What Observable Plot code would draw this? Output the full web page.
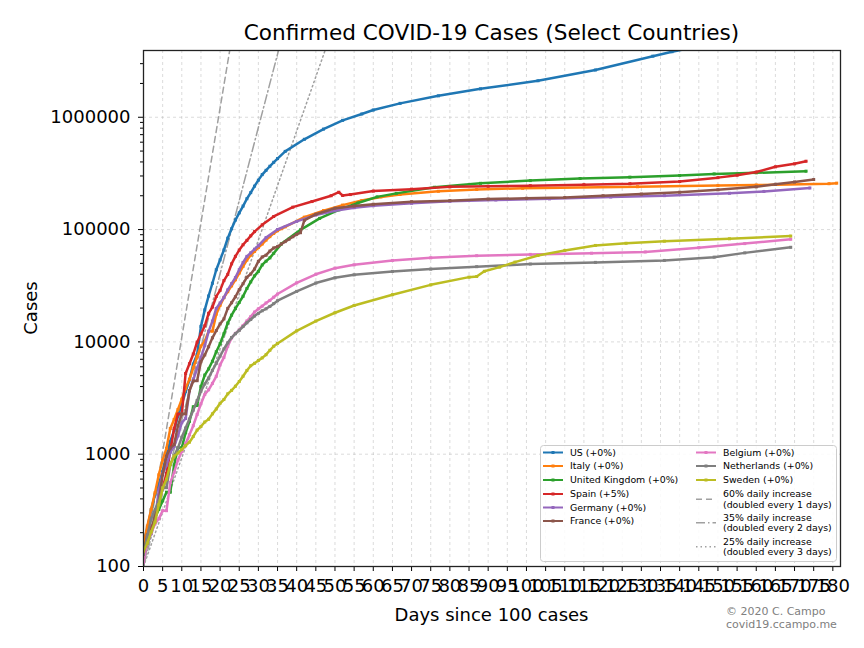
<!DOCTYPE html>
<html><head><meta charset="utf-8">
<script src="https://cdn.jsdelivr.net/npm/d3@7"></script>
<script src="https://cdn.jsdelivr.net/npm/@observablehq/plot@0.6"></script>
<style>
body{margin:0;background:#fff;font-family:"DejaVu Sans",sans-serif;}
#wrap{position:relative;width:864px;height:648px;overflow:hidden;}
#title{position:absolute;left:143px;width:697px;top:20px;text-align:center;font-size:21.6px;line-height:26px;color:#000;}
#chart{position:absolute;left:0;top:44px;}
#ylabel{position:absolute;left:30px;top:308px;transform:translate(-50%,-50%) rotate(-90deg);font-size:18px;white-space:nowrap;}
#xlabel{position:absolute;left:143px;width:697px;top:604px;text-align:center;font-size:18px;line-height:22px;}
#credit{position:absolute;left:726px;top:606px;font-size:11px;color:#808080;line-height:12.5px;}
#legend{position:absolute;left:540px;top:445px;}
</style></head>
<body>
<div id="wrap">
  <div id="title">Confirmed COVID-19 Cases (Select Countries)</div>
  <div id="chart"></div>
  <div id="ylabel">Cases</div>
  <div id="xlabel">Days since 100 cases</div>
  <div id="credit">© 2020 C. Campo<br>covid19.ccampo.me</div>
  <div id="legend"></div>
</div>
<script>
// ---- data: [day since 100 cases, confirmed cases] ----
const us = [[0,158],[1,221],[2,319],[3,435],[4,541],[5,704],[6,994],[7,1301],[8,1630],[9,2183],[10,2770],[11,3613],[12,4596],[13,6344],[14,7731],[15,13749],[16,19273],[17,25600],[18,33276],[19,43847],[20,53740],[21,65778],[22,83836],[23,101657],[24,121465],[25,140909],[26,161831],[27,188172],[28,213242],[29,243622],[30,275367],[31,308650],[32,336802],[33,366317],[34,397121],[35,428654],[37,496535],[42,636350],[47,784326],[52,938154],[57,1069424],[60,1160000],[67,1329260],[77,1551853],[88,1790191],[103,2114026],[118,2636538],[133,3499398],[138,3833271],[149,4562038],[169,5529789]];
const italy = [[0,155],[1,229],[2,322],[3,453],[4,655],[5,888],[6,1128],[7,1694],[8,2036],[9,2502],[10,3089],[11,3858],[12,4636],[13,5883],[14,7375],[15,9172],[16,10149],[17,12462],[18,12462],[19,17660],[20,21157],[21,24747],[22,27980],[23,31506],[24,35713],[25,41035],[26,47021],[27,53578],[28,59138],[29,63927],[30,69176],[31,74386],[32,80589],[33,86498],[34,92472],[35,97689],[36,101739],[37,105792],[42,128948],[47,147577],[52,165155],[57,181228],[62,195351],[67,205463],[77,219070],[87,227364],[99,233197],[129,240760],[150,247000],[160,249000],[179,256118],[181,259000]];
const uk = [[0,116],[1,164],[2,207],[3,274],[4,322],[5,384],[6,459],[7,459],[8,802],[9,1144],[10,1145],[11,1551],[12,1960],[13,2642],[14,2716],[15,4014],[16,5067],[17,5745],[18,6726],[19,8164],[20,9640],[21,11812],[22,14745],[23,17312],[24,19780],[25,22453],[26,25481],[27,29865],[28,34173],[29,38689],[30,42477],[31,48436],[32,52279],[33,55949],[34,61474],[36,74605],[41,99483],[46,125856],[51,149569],[56,172481],[61,195524],[66,210000],[76,238000],[88,258000],[101,273000],[114,285000],[127,293000],[140,303000],[149,313000],[160,320000],[173,331000]];
const spain = [[0,120],[1,165],[2,222],[3,259],[4,400],[5,500],[6,673],[7,1073],[8,1695],[9,2277],[10,2277],[11,5232],[12,6391],[13,7798],[14,9942],[15,11748],[16,13910],[17,17963],[18,20410],[19,25374],[20,28768],[21,35136],[22,39885],[23,49515],[24,57786],[25,65719],[26,73235],[27,80110],[28,87956],[29,95923],[31,110238],[34,130759],[39,158273],[44,177633],[49,200210],[51,215000],[52,201000],[54,205000],[60,220000],[70,229000],[80,240000],[90,243000],[101,246000],[115,251000],[127,256000],[140,268000],[150,290000],[155,305000],[160,325000],[165,362000],[170,385000],[173,406000]];
const germany = [[0,130],[1,159],[2,196],[3,262],[4,482],[5,670],[6,799],[7,1040],[8,1176],[9,1457],[10,1908],[11,2078],[12,3675],[13,4585],[14,5795],[15,7272],[16,9257],[17,12327],[18,15320],[19,19848],[20,22213],[21,24873],[22,29056],[23,32986],[24,37323],[25,43938],[26,50871],[27,57695],[28,62095],[29,66885],[30,71808],[32,84794],[35,100123],[40,118181],[45,134753],[50,147065],[55,156513],[60,163009],[70,171324],[80,178473],[92,183410],[106,187671],[122,195042],[136,200456],[153,210402],[162,218519],[174,234500]];
const france = [[0,130],[1,191],[2,204],[3,288],[4,380],[5,656],[6,957],[7,1134],[8,1217],[9,1792],[10,2289],[11,2289],[12,3672],[13,4480],[14,4513],[15,6650],[16,7652],[17,9043],[18,10871],[19,12612],[20,14459],[21,16018],[22,19856],[23,22304],[24,25233],[25,29155],[26,32964],[27,37575],[28,40174],[29,44550],[30,52128],[31,56989],[32,59105],[33,64338],[34,68605],[35,70478],[36,74390],[37,78167],[38,82048],[39,86334],[40,90676],[41,93790],[42,120633],[45,137000],[50,155000],[55,162000],[60,168000],[70,177000],[80,181000],[90,187000],[100,190000],[110,193000],[120,200000],[130,207000],[140,215000],[150,226000],[160,240000],[165,253000],[170,265000],[175,279000]];
const belgium = [[0,109],[1,169],[2,200],[3,239],[4,267],[5,314],[6,314],[7,559],[8,689],[9,886],[10,1058],[11,1243],[12,1486],[13,1795],[14,2257],[15,2815],[16,3401],[17,3743],[18,4269],[19,4937],[20,6235],[21,7284],[22,9134],[23,10836],[24,11899],[25,12775],[26,13964],[27,15348],[28,16770],[29,18431],[30,19691],[31,20814],[32,22194],[33,23403],[34,24983],[35,26667],[40,33573],[45,39983],[50,45325],[55,48519],[65,53081],[75,55983],[87,58517],[101,60100],[117,61598],[131,63238],[145,69000],[157,75000],[169,82000]];
const netherlands = [[0,128],[1,188],[2,265],[3,321],[4,382],[5,503],[6,503],[7,806],[8,962],[9,1138],[10,1416],[11,1711],[12,2058],[13,2467],[14,3003],[15,3640],[16,4216],[17,4764],[18,5580],[19,6438],[20,7468],[21,8647],[22,9819],[23,10930],[24,11817],[25,12667],[26,13696],[27,14788],[28,15821],[29,17000],[30,17953],[31,18926],[32,19709],[33,20682],[34,21903],[35,23249],[40,28153],[45,33405],[50,37190],[55,39512],[65,42382],[75,44449],[87,46733],[101,49319],[118,51000],[136,53100],[149,56800],[157,62000],[169,69500]];
const sweden = [[0,137],[1,161],[2,203],[3,248],[4,355],[5,500],[6,599],[7,814],[8,961],[9,1022],[10,1103],[11,1190],[12,1279],[13,1439],[14,1639],[15,1763],[16,1934],[17,2046],[18,2286],[19,2526],[20,2840],[21,3069],[22,3447],[23,3700],[24,4028],[25,4435],[26,4947],[27,5568],[28,6131],[29,6443],[30,6830],[31,7206],[32,7693],[33,8419],[34,9141],[35,9685],[40,12540],[45,15322],[50,18177],[55,21092],[65,26322],[75,32200],[85,37700],[87,38200],[89,42500],[93,46300],[97,51300],[103,58800],[110,65200],[118,72200],[126,75500],[136,78800],[153,82800],[169,87500]];

const countries = ["US","Italy","United Kingdom","Spain","Germany","France","Belgium","Netherlands","Sweden"];
const legendLabels = ["US (+0%)","Italy (+0%)","United Kingdom (+0%)","Spain (+5%)","Germany (+0%)","France (+0%)","Belgium (+0%)","Netherlands (+0%)","Sweden (+0%)"];
const colors = ["#1f77b4","#ff7f0e","#2ca02c","#d62728","#9467bd","#8c564b","#e377c2","#7f7f7f","#bcbd22"];
const seriesData = [us, italy, uk, spain, germany, france, belgium, netherlands, sweden];

// reference growth lines
const refRates = [0.60, 0.35, 0.25];
const refLabels = ["60% daily increase\n(doubled every 1 days)","35% daily increase\n(doubled every 2 days)","25% daily increase\n(doubled every 3 days)"];
const refDash = ["6,4","9,3,1.5,3","1.5,3"];
const refDays = [0, 60];

const xTicks = d3.range(0, 181, 5);
const yMajor = [100, 1000, 10000, 100000, 1000000];
const yMax = 3.93e6;
const yMinor = [];
yMajor.forEach(b => { for (let m = 2; m <= 9; m++) if (b*m < yMax) yMinor.push(b*m); });

const rows = [];
seriesData.forEach((s, i) => s.forEach(([d, c]) => rows.push({country: countries[i], day: d, cases: c})));
const refRows = [];
refRates.forEach((r, i) => refDays.forEach(d => refRows.push({ref: i, day: d, cases: 100*Math.pow(1+r, d)})));

const marks = [
  Plot.gridX(xTicks, {stroke: "#b0b0b0", strokeOpacity: 0.45, strokeDasharray: "3,3"}),
  Plot.gridY(yMajor, {stroke: "#b0b0b0", strokeOpacity: 0.45, strokeDasharray: "3,3"}),
];
refRates.forEach((r, i) => {
  marks.push(Plot.line(refRows.filter(d => d.ref === i), {x: "day", y: "cases", stroke: "#a0a0a0", strokeWidth: 1.5, strokeDasharray: refDash[i], clip: true}));
});
countries.forEach((c, i) => {
  const data = rows.filter(d => d.country === c);
  marks.push(Plot.line(data, {x: "day", y: "cases", stroke: colors[i], strokeWidth: 2.5, clip: true}));
  marks.push(Plot.dot(data, {x: "day", y: "cases", fill: colors[i], symbol: "square", r: 1.7, clip: true}));
});
marks.push(
  Plot.axisX({ticks: xTicks, tickSize: 5, tickPadding: 8, tickFormat: d => String(d), label: null}),
  Plot.axisY({ticks: yMajor, tickSize: 5, tickPadding: 8, tickFormat: d => String(d), label: null}),
  Plot.axisY({ticks: yMinor, tickSize: 3, tickFormat: () => "", label: null}),
  Plot.frame({stroke: "#222", strokeWidth: 1.3})
);

const chart = Plot.plot({
  width: 864, height: 604,
  marginLeft: 143, marginRight: 24, marginTop: 6, marginBottom: 82,
  style: {fontFamily: "DejaVu Sans", fontSize: "18px", color: "#000", background: "transparent"},
  x: {type: "linear", domain: [0, 182]},
  y: {type: "log", domain: [100, yMax]},
  marks
});
document.getElementById("chart").appendChild(chart);

// legend
const lg = d3.select("#legend").append("svg").attr("width", 297).attr("height", 117)
  .style("font-family", "DejaVu Sans").style("font-size", "9.4px");
lg.append("rect").attr("x", 0.5).attr("y", 0.5).attr("width", 296).attr("height", 116).attr("rx", 3)
  .attr("fill", "#fff").attr("fill-opacity", 0.85).attr("stroke", "#cccccc");
const rowY = [7.5, 21, 35, 49, 62.5, 76];
countries.forEach((c, i) => {
  const col = i < 6 ? 0 : 1;
  const y = rowY[i < 6 ? i : i - 6];
  const hx = col === 0 ? 3 : 156, tx = col === 0 ? 30 : 183;
  lg.append("line").attr("x1", hx).attr("x2", hx + 20).attr("y1", y).attr("y2", y).attr("stroke", colors[i]).attr("stroke-width", 2);
  lg.append("rect").attr("x", hx + 8.5).attr("y", y - 1.5).attr("width", 3).attr("height", 3).attr("fill", colors[i]);
  lg.append("text").attr("x", tx).attr("y", y).attr("dy", "0.35em").text(legendLabels[i]);
});
const refY = [[49, 59.5], [72.5, 83], [96.5, 107]];
refLabels.forEach((t, i) => {
  const [y1, y2] = refY[i];
  const hy = (y1 + y2) / 2;
  lg.append("line").attr("x1", 156).attr("x2", 176).attr("y1", hy).attr("y2", hy).attr("stroke", "#a0a0a0").attr("stroke-width", 1.5).attr("stroke-dasharray", refDash[i]);
  const parts = t.split("\n");
  lg.append("text").attr("x", 183).attr("y", y1).attr("dy", "0.35em").text(parts[0]);
  lg.append("text").attr("x", 183).attr("y", y2).attr("dy", "0.35em").text(parts[1]);
});
</script>
</body></html>
